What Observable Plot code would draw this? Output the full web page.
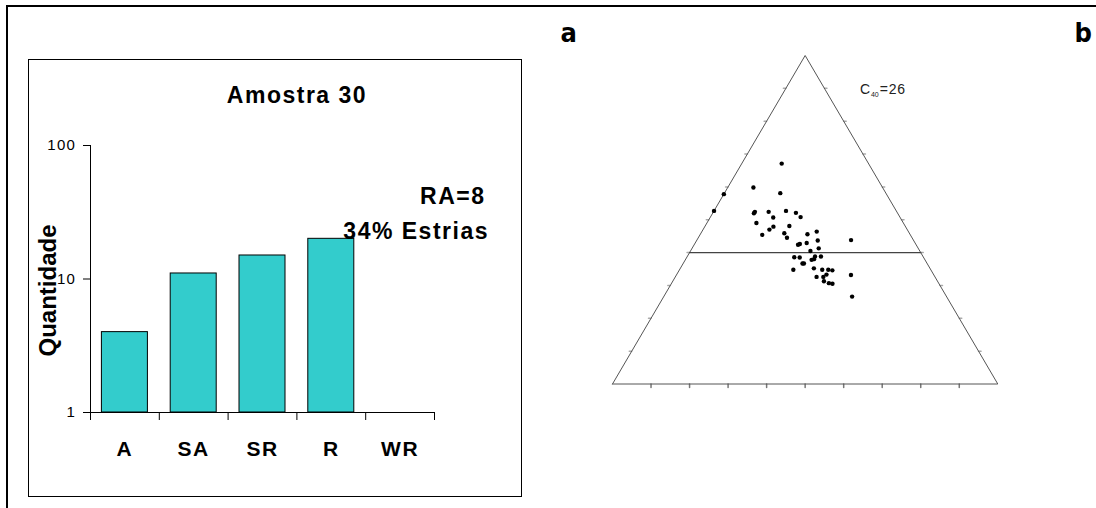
<!DOCTYPE html>
<html><head><meta charset="utf-8">
<script src="https://cdn.jsdelivr.net/npm/d3@7"></script>
<script src="https://cdn.jsdelivr.net/npm/@observablehq/plot@0.6"></script>
<style>
html,body{margin:0;padding:0;background:#fff;}
body{width:1096px;height:508px;position:relative;overflow:hidden;font-family:"Liberation Sans",Arial,sans-serif;}
#frame{position:absolute;left:6px;top:5px;width:1200px;height:600px;border:2px solid #000;}
#box{position:absolute;left:28px;top:59px;width:492px;height:436px;border:1px solid #000;}
#bars{position:absolute;left:0;top:0;}
#tri{position:absolute;left:523px;top:8px;}
#c40{position:absolute;left:860px;top:82px;font-size:14px;line-height:14px;letter-spacing:0.8px;color:#222;white-space:nowrap;}
#c40 span{font-size:7px;position:relative;top:3px;letter-spacing:0;margin-right:1px;}
</style></head>
<body>
<div id="frame"></div>
<div id="box"><div id="bars"></div></div>
<div id="tri"></div>
<div id="c40">C<span>40</span>=26</div>
<script>
// ---- Bar chart data (Amostra 30) ----
const categories = ["A", "SA", "SR", "R", "WR"];
const quantities = [4, 11, 15, 20, 0];
const yTicks = [1, 10, 100];
const chartTitle = "Amostra 30";
const yLabel = "Quantidade";
const noteRA = "RA=8";
const noteStriae = "34% Estrias";

// ---- Sneed & Folk triangle data: c/a (height) and (a-b)/(a-c) (across) ----
const caRatio = [0.671,0.598,0.581,0.578,0.527,0.520,0.524,0.524,0.507,0.527,0.521,0.508,0.490,0.479,0.470,0.481,0.454,0.459,0.445,0.456,0.464,0.437,0.438,0.424,0.426,0.429,0.413,0.405,0.388,0.388,0.386,0.385,0.378,0.380,0.367,0.367,0.348,0.352,0.348,0.348,0.346,0.326,0.326,0.333,0.332,0.313,0.307,0.305,0.266];
const abFraction = [0.315,0.166,0.346,0.000,0.000,0.223,0.226,0.301,0.332,0.395,0.450,0.476,0.252,0.342,0.325,0.421,0.296,0.400,0.415,0.511,0.556,0.558,0.712,0.468,0.476,0.507,0.560,0.523,0.542,0.567,0.454,0.477,0.527,0.537,0.489,0.495,0.453,0.535,0.568,0.592,0.608,0.544,0.570,0.583,0.678,0.571,0.589,0.602,0.666];
const c40Level = 0.4;
const edgeTicks = [0.1,0.2,0.3,0.4,0.5,0.6,0.7,0.8,0.9];
const panelLabels = ["a", "b"];

const font = '"Liberation Sans", Arial, sans-serif';

// ---- Bar chart ----
const barData = categories.map((c, i) => ({c, i, v: quantities[i]})).filter(d => d.v > 0);
const bars = Plot.plot({
  width: 492, height: 436,
  marginLeft: 61, marginRight: 87, marginTop: 85, marginBottom: 84,
  style: {fontFamily: font, color: "#000", background: "transparent", overflow: "visible"},
  x: {type: "linear", domain: [0, categories.length], axis: null},
  y: {type: "log", domain: [1, 100], axis: null},
  marks: [
    Plot.rect(barData, {x1: d => d.i, x2: d => d.i + 1, y1: 1, y2: "v", insetLeft: 11.4, insetRight: 11.4, fill: "#33CCCC", stroke: "#000", strokeWidth: 1}),
    Plot.ruleX([0], {stroke: "#000"}),
    Plot.ruleY([1], {stroke: "#000"}),
    Plot.axisY({ticks: yTicks, tickFormat: d => String(d), tickSize: 7, tickPadding: 7.5, fontSize: 15, label: null}),
    Plot.axisX({ticks: d3.range(categories.length + 1), tickSize: 8, tickFormat: () => "", label: null}),
    Plot.text(categories, {x: (d, i) => i + 0.5, frameAnchor: "bottom", lineAnchor: "bottom", dy: 43, fontSize: 21, fontWeight: "bold"}),
    Plot.text([chartTitle], {frameAnchor: "top-left", dx: 206.5, dy: -43, lineAnchor: "bottom", textAnchor: "middle", fontSize: 23, fontWeight: "bold"}),
    Plot.text([noteRA], {frameAnchor: "top-right", dx: 51, dy: 58, lineAnchor: "bottom", textAnchor: "end", fontSize: 23, fontWeight: "bold"}),
    Plot.text([noteStriae], {frameAnchor: "top-right", dx: 54.5, dy: 93, lineAnchor: "bottom", textAnchor: "end", fontSize: 23, fontWeight: "bold"}),
    Plot.text([yLabel], {frameAnchor: "left", dx: -42, dy: 11.5, rotate: -90, textAnchor: "middle", lineAnchor: "middle", fontSize: 24, fontWeight: "bold"})
  ]
});
const barsSel = d3.select(bars);
barsSel.selectAll("text").attr("letter-spacing", "1.5px");
barsSel.selectAll("text").filter(function() { return this.textContent === yLabel; }).attr("letter-spacing", "0px");
barsSel.selectAll("text").filter(function() { return yTicks.map(String).includes(this.textContent); }).attr("font-size", "15px").attr("letter-spacing", "1.2px");
document.getElementById("bars").appendChild(bars);

// ---- Triangle ----
const proj = (h, f) => ({X: 0.5 * h + f * (1 - h), Y: h});
const outline = [proj(0, 0), proj(0, 1), proj(1, 0), proj(0, 0)];
const c40Line = [proj(c40Level, 0), proj(c40Level, 1)];
const points = caRatio.map((h, i) => proj(h, abFraction[i]));
const bottomTicks = edgeTicks.map(t => proj(0, t));
const leftTicks = edgeTicks.map(t => proj(t, 0));
const rightTicks = edgeTicks.map(t => proj(t, 1));
const tickShape = {draw(context, l) { context.moveTo(0, 0); context.lineTo(0, -l); }};
const labelFont = '"DejaVu Sans Condensed","Liberation Sans Narrow",sans-serif';

const tri = Plot.plot({
  width: 573, height: 500,
  marginLeft: 89, marginRight: 98.7, marginTop: 47, marginBottom: 124.5,
  style: {fontFamily: font, color: "#000", background: "transparent", overflow: "visible"},
  x: {domain: [0, 1], axis: null},
  y: {domain: [0, 1], axis: null},
  marks: [
    Plot.vector(bottomTicks, {x: "X", y: "Y", length: 3.5, rotate: 180, anchor: "start", shape: tickShape, stroke: "#777"}),
    Plot.vector(leftTicks, {x: "X", y: "Y", length: 2.5, rotate: 270, anchor: "start", shape: tickShape, stroke: "#aaa"}),
    Plot.vector(rightTicks, {x: "X", y: "Y", length: 2.5, rotate: 90, anchor: "start", shape: tickShape, stroke: "#aaa"}),
    Plot.line(outline, {x: "X", y: "Y", stroke: "#555", strokeWidth: 1}),
    Plot.line(c40Line, {x: "X", y: "Y", stroke: "#444", strokeWidth: 1.4}),
    Plot.dot(points, {x: "X", y: "Y", r: 2.2, fill: "#000", stroke: null}),
    Plot.text([panelLabels[0]], {frameAnchor: "top-left", dx: -52, dy: -14, lineAnchor: "bottom", textAnchor: "start", fontSize: 27, fontWeight: "bold", fontFamily: labelFont}),
    Plot.text([panelLabels[1]], {frameAnchor: "top-right", dx: 76.7, dy: -14, lineAnchor: "bottom", textAnchor: "start", fontSize: 27, fontWeight: "bold", fontFamily: labelFont})
  ]
});
document.getElementById("tri").appendChild(tri);
</script>
</body></html>
